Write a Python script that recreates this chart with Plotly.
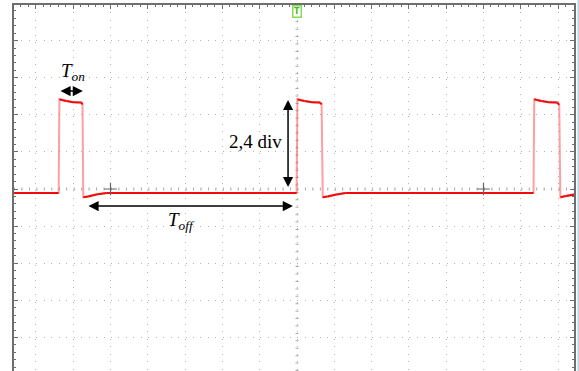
import plotly.graph_objects as go

# Scope trace: time in divisions (0 = trigger), voltage in divisions
time_div = [-7.59, -6.39, -6.37, -6.30, -6.18, -6.00, -5.78, -5.75, -5.73, -5.60, -5.35, -5.10,
            -0.01, 0.01, 0.08, 0.20, 0.40, 0.62, 0.66, 0.69, 0.82, 1.05, 1.30,
            6.34, 6.36, 6.43, 6.55, 6.75, 6.98, 7.03, 7.06, 7.20, 7.43]
volt_div = [-0.11, -0.11, 2.42, 2.40, 2.37, 2.34, 2.33, 2.28, -0.22, -0.20, -0.14, -0.11,
            -0.11, 2.42, 2.40, 2.37, 2.34, 2.33, 2.28, -0.22, -0.20, -0.15, -0.11,
            -0.11, 2.42, 2.40, 2.37, 2.34, 2.33, 2.27, -0.22, -0.19, -0.15]

# Cursor cross marks on the horizontal centre line
cursor_x = [-5.0, 5.0]
cursor_y = [0.0, 0.0]

# Measurement annotations
ton_span = [-6.38, -5.74]
ton_level = 2.64
toff_span = [-5.63, -0.11]
toff_level = -0.46
amp_x = -0.24
amp_base = 0.0
amp_value = 2.4

fig = go.Figure()

# full trace (edges show lighter)
fig.add_trace(go.Scatter(x=time_div, y=volt_div, mode="lines",
                         line=dict(color="rgba(255,80,80,0.55)", width=2),
                         hoverinfo="skip", showlegend=False))

# flat parts of the trace drawn in solid red on top
hx, hy = [], []
for i in range(len(time_div) - 1):
    if abs(time_div[i + 1] - time_div[i]) > 0.03:
        hx += [time_div[i], time_div[i + 1], None]
        hy += [volt_div[i], volt_div[i + 1], None]
fig.add_trace(go.Scatter(x=hx, y=hy, mode="lines",
                         line=dict(color="#f00a0a", width=2),
                         hoverinfo="skip", showlegend=False))

fig.add_trace(go.Scatter(x=cursor_x, y=cursor_y, mode="markers",
                         marker=dict(symbol="cross-thin", size=9,
                                     line=dict(color="#666666", width=1.2)),
                         hoverinfo="skip", showlegend=False))

# centre axes with fine tick marks
for shp in [dict(x0=0, x1=0, y0=0, y1=1, xref="x", yref="paper", dash="1px,6.42px"),
            dict(x0=0, x1=1, y0=0, y1=0, xref="paper", yref="y", dash="1px,6.46px")]:
    fig.add_shape(type="line", x0=shp["x0"], x1=shp["x1"], y0=shp["y0"], y1=shp["y1"],
                  xref=shp["xref"], yref=shp["yref"], layer="below",
                  line=dict(color="#a8a8a8", width=3, dash=shp["dash"]))

# light blue frame edge at the right
fig.add_shape(type="line", x0=1.008, x1=1.008, y0=0, y1=1.02, xref="paper", yref="paper",
              line=dict(color="#b9d3ea", width=2))

arrow_common = dict(showarrow=True, arrowhead=2, arrowsize=1.35, arrowwidth=1.5,
                    arrowcolor="black", arrowside="end+start", text=" ",
                    font=dict(size=1),
                    axref="x", ayref="y", xref="x", yref="y")

# T_on double arrow
fig.add_annotation(x=ton_span[1], y=ton_level, ax=ton_span[0], ay=ton_level,
                   standoff=0, startstandoff=0, **arrow_common)
# T_off double arrow
fig.add_annotation(x=toff_span[1], y=toff_level, ax=toff_span[0], ay=toff_level,
                   **arrow_common)
# amplitude double arrow
fig.add_annotation(x=amp_x, y=amp_base + amp_value, ax=amp_x, ay=amp_base,
                   **arrow_common)

serif = "Liberation Serif, Times New Roman, serif"
fig.add_annotation(x=-6.0, y=3.15, xref="x", yref="y", showarrow=False,
                   text="<i>T</i><sub><i>on</i></sub>",
                   font=dict(family=serif, size=19, color="black"))
fig.add_annotation(x=-3.1, y=-0.86, xref="x", yref="y", showarrow=False,
                   text="<i>T</i><sub><i>off</i></sub>",
                   font=dict(family=serif, size=19, color="black"))
fig.add_annotation(x=-1.11, y=1.27, xref="x", yref="y", showarrow=False,
                   text=f"{amp_value:.1f}".replace(".", ",") + " div",
                   font=dict(family=serif, size=19, color="black"))

# trigger marker
fig.add_annotation(x=0, y=1, xref="x", yref="paper", yanchor="top", showarrow=False,
                   text="<b>T</b>", font=dict(family="DejaVu Sans", size=8, color="#4fb52a"),
                   bgcolor="white", bordercolor="#86dc55", borderwidth=1.5, borderpad=0.5)

fig.update_xaxes(range=[-7.587, 7.426], side="top", dtick=1, tick0=0,
                 showgrid=True, gridcolor="#b4b4b4", gridwidth=1, griddash="1px,6.42px",
                 zeroline=False, showline=True, linecolor="#6e6e6e", linewidth=1.5,
                 ticks="inside", ticklen=4, tickcolor="#6e6e6e", showticklabels=False,
                 minor=dict(dtick=0.2, tick0=0, ticks="inside", ticklen=2.5,
                            tickcolor="#6e6e6e", showgrid=False),
                 fixedrange=True)
fig.update_yaxes(range=[-4.905, 4.96], dtick=1, tick0=0,
                 showgrid=True, gridcolor="#b4b4b4", gridwidth=1, griddash="1px,6.46px",
                 zeroline=False, showline=True, linecolor="#6e6e6e", linewidth=1.5,
                 mirror="ticks",
                 ticks="inside", ticklen=4, tickcolor="#6e6e6e", showticklabels=False,
                 minor=dict(dtick=0.2, tick0=0, ticks="inside", ticklen=2.5,
                            tickcolor="#6e6e6e", showgrid=False),
                 fixedrange=True)

fig.update_layout(width=579, height=371, margin=dict(l=14, r=5, t=5, b=0),
                  paper_bgcolor="white", plot_bgcolor="white", showlegend=False)

fig.write_html("out.html", config={"displayModeBar": False})
